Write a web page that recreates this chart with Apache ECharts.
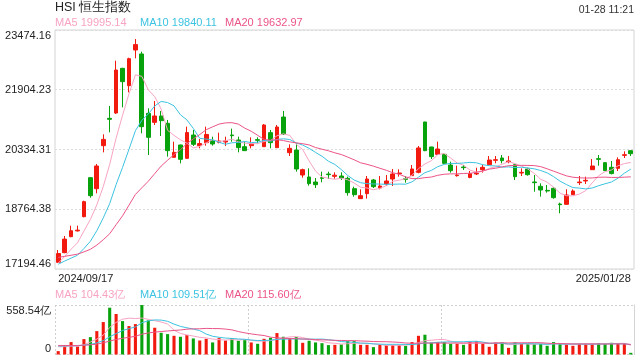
<!DOCTYPE html>
<html>
<head>
<meta charset="utf-8">
<script src="https://cdn.jsdelivr.net/npm/echarts@6/dist/echarts.min.js"></script>
<style>
html,body{margin:0;padding:0;background:#fff;}
#c{width:640px;height:360px;}
</style>
</head>
<body>
<div id="c"></div>
<script>
// ---- data ----
const dates = [
'2024/09/17','2024/09/19','2024/09/20','2024/09/23','2024/09/24','2024/09/25','2024/09/26','2024/09/27','2024/09/30',
'2024/10/02','2024/10/03','2024/10/04','2024/10/07','2024/10/08','2024/10/09','2024/10/10','2024/10/14','2024/10/15','2024/10/16','2024/10/17','2024/10/18','2024/10/21','2024/10/22','2024/10/23','2024/10/24','2024/10/25','2024/10/28','2024/10/29','2024/10/30','2024/10/31',
'2024/11/01','2024/11/04','2024/11/05','2024/11/06','2024/11/07','2024/11/08','2024/11/11','2024/11/12','2024/11/13','2024/11/14','2024/11/15','2024/11/18','2024/11/19','2024/11/20','2024/11/21','2024/11/22','2024/11/25','2024/11/26','2024/11/27','2024/11/28','2024/11/29',
'2024/12/02','2024/12/03','2024/12/04','2024/12/05','2024/12/06','2024/12/09','2024/12/10','2024/12/11','2024/12/12','2024/12/13','2024/12/16','2024/12/17','2024/12/18','2024/12/19','2024/12/20','2024/12/23','2024/12/24','2024/12/27','2024/12/30','2024/12/31',
'2025/01/02','2025/01/03','2025/01/06','2025/01/07','2025/01/08','2025/01/09','2025/01/10','2025/01/13','2025/01/14','2025/01/15','2025/01/16','2025/01/17','2025/01/20','2025/01/21','2025/01/22','2025/01/23','2025/01/24','2025/01/27','2025/01/28'
];
const opens = [
17370,17624,18044,18195,18570,19594,19305,20435,21153,
21293,22467,22011,22949,22844,21285,21048,21215,21022,20129,20453,20102,20715,20435,20514,20566,20523,20531,20715,20584,20409,
20435,20593,20409,20777,20383,21188,20251,20321,19664,19612,19480,19594,19690,19629,19638,19577,19305,19043,19174,19533,19323,
19428,19559,19699,19568,19647,19734,21057,20400,20207,20207,19927,19647,19875,19600,19691,19804,19936,20050,20111,20015,
19936,19717,19822,19480,19367,19261,19314,18902,18894,19148,19463,19507,19804,20093,19988,19866,19839,20180,20304
];
const closes = [
17600,17980,18200,18215,18964,19121,19901,20600,21127,
22423,22117,22721,23090,20934,20654,21215,21092,20304,20260,20076,20780,20470,20490,20730,20479,20558,20560,20698,20383,20304,
20479,20575,20978,20514,20925,20742,20365,19822,19805,19437,19410,19577,19673,19660,19586,19200,19148,19121,19559,19358,19375,
19507,19691,19717,19550,19822,20374,20304,20146,20347,19971,19778,19664,19857,19700,19708,19866,20058,20067,20041,20032,
19620,19734,19673,19463,19270,19244,19069,18885,19139,19244,19480,19524,19901,20076,19779,19701,20066,20198,20225
];
const lows = [
17360,17610,18030,18180,18552,19069,19183,20260,20785,
21267,21442,21836,22730,20759,20190,20978,20689,20146,20120,19970,20085,20426,20365,20435,20435,20496,20426,20540,20260,20295,
20365,20496,20400,20365,20383,20715,20164,19752,19594,19384,19323,19472,19559,19568,19533,19121,19095,19034,19043,19323,19288,
19375,19375,19621,19463,19638,19708,20290,20085,20190,19953,19726,19621,19796,19580,19664,19726,19927,19971,19971,19971,
19533,19638,19647,19226,19095,19200,19042,18657,18890,19140,19402,19428,19796,19910,19770,19682,19769,20111,20163
];
const highs = [
17694,18062,18333,18333,18990,19600,19953,20733,21477,
22668,22480,22747,23238,22905,21416,21609,21346,21110,20540,20460,20934,20847,20610,20934,20671,20777,20671,20882,20671,20540,
20654,20654,21004,20847,20978,21346,20470,20496,19831,19839,19585,19752,19752,19735,19735,19621,19358,19288,19638,19559,19638,
19664,19822,19813,19629,19927,20426,21060,20405,20540,20234,20015,19910,19927,19769,19857,19936,20163,20163,20190,20163,
19940,19839,19857,19664,19445,19402,19340,18937,19288,19288,19638,19620,20085,20190,20006,20032,20128,20286,20304
];
// turnover, unit 亿
const volumes = [
38,106,140,91,174,196,264,366,528,457,377,321,343,558,385,302,245,230,211,200,219,181,158,177,136,185,158,185,155,162,
136,121,177,189,242,200,185,196,132,155,136,128,106,109,113,151,151,109,109,83,109,
106,109,109,98,140,211,223,132,140,140,121,121,109,143,151,121,87,136,136,75,
136,121,121,121,121,98,140,121,113,98,121,121,121,128,120,132,124,127,19
];
// estimated sessions before the first visible day, so the moving averages start at the left edge as in the reference
const priorCloses = [17391,17641,17612,17798,17755,17692,17786,17989,17651,17457,17127,17444,17444,17196,17234,17108,17241,17369,17422];
const priorVolumes = [98,112,105,96,120,101,93,108,115,99,104,110,95,102,118,97,106,100,92];

const priceTicks = ['17194.46','18764.38','20334.31','21904.23','23474.16'];
const volumeTicks = ['0','558.54亿'];
const priceMA = {MA5:'19995.14', MA10:'19840.11', MA20:'19632.97'};
const volMA = {MA5:'104.43亿', MA10:'109.51亿', MA20:'115.60亿'};

// ---- build ----
const priceMin = parseFloat(priceTicks[0]);
const priceMax = parseFloat(priceTicks[priceTicks.length-1]);
const priceStep = (priceMax - priceMin) / (priceTicks.length - 1);
const volMax = parseFloat(volumeTicks[1]);

const UP = '#f2190f', DOWN = '#08a20c';
const C5 = '#f8a3c3', C10 = '#3cc3e1', C20 = '#ec5488';
const FONT = "'Liberation Sans', Arial, sans-serif";

function movingAvg(prior, vals, n) {
  const all = prior.concat(vals);
  const off = prior.length;
  return vals.map((v, i) => {
    const end = off + i;
    if (end - n + 1 < 0) return '-';
    let s = 0;
    for (let k = end - n + 1; k <= end; k++) s += all[k];
    return +(s / n).toFixed(2);
  });
}

const kData = dates.map((d, i) => [opens[i], closes[i], lows[i], highs[i]]);
const volData = volumes.map((v, i) => ({
  value: v,
  itemStyle: {color: closes[i] >= opens[i] ? UP : DOWN}
}));

const chart = echarts.init(document.getElementById('c'), null, {renderer: 'canvas'});

function maLine(name, data, color, xi, yi) {
  return {name, type: 'line', data, xAxisIndex: xi, yAxisIndex: yi, symbol: 'none',
    lineStyle: {width: 1, color}, itemStyle: {color}, silent: true, z: 5};
}
function txt(text, pos, size, color) {
  return Object.assign({text, padding: 0,
    textStyle: {fontSize: size, color, fontWeight: 'normal', fontFamily: FONT}}, pos);
}

chart.setOption({
  animation: false,
  backgroundColor: '#fff',
  textStyle: {fontFamily: FONT},
  title: [
    txt('HSI 恒生指数', {left: 55, top: 1}, 12.5, '#222'),
    txt('01-28 11:21', {right: 6, top: 5}, 10.5, '#333'),
    txt('MA5 ' + priceMA.MA5, {left: 55, top: 17}, 11, C5),
    txt('MA10 ' + priceMA.MA10, {left: 140, top: 17}, 11, C10),
    txt('MA20 ' + priceMA.MA20, {left: 225, top: 17}, 11, C20),
    txt('MA5 ' + volMA.MA5, {left: 55, top: 289}, 11, C5),
    txt('MA10 ' + volMA.MA10, {left: 140, top: 289}, 11, C10),
    txt('MA20 ' + volMA.MA20, {left: 225, top: 289}, 11, C20)
  ],
  grid: [
    {left: 55, right: 6, top: 30, height: 239, show: true, borderColor: '#d4d4d4', borderWidth: 1, backgroundColor: 'transparent'},
    {left: 55, right: 6, top: 305, height: 49.5, show: false}
  ],
  xAxis: [
    {type: 'category', gridIndex: 0, data: dates, boundaryGap: true,
      axisLine: {show: false}, axisTick: {show: false}, splitLine: {show: false},
      axisLabel: {show: true, color: '#222', fontSize: 11, margin: 4, fontFamily: FONT,
        interval: (i) => i === 0 || i === dates.length - 1,
        alignMinLabel: 'left', alignMaxLabel: 'right'}},
    {type: 'category', gridIndex: 1, data: dates, boundaryGap: true,
      axisLine: {show: false}, axisTick: {show: false}, axisLabel: {show: false},
      splitLine: {show: true, interval: (i) => i % 30 === 0, lineStyle: {color: '#cfcfcf', type: [2, 2], width: 1}}}
  ],
  yAxis: [
    {type: 'value', gridIndex: 0, min: priceMin, max: priceMax, interval: priceStep * (1 + 1e-7),
      axisLine: {show: false}, axisTick: {show: false},
      splitLine: {show: true, lineStyle: {color: '#dcdcdc', type: [2, 2], width: 1}},
      axisLabel: {color: '#222', fontSize: 11, margin: 4, fontFamily: FONT,
        verticalAlignMaxLabel: 'top', verticalAlignMinLabel: 'bottom',
        formatter: (v) => priceTicks[Math.round((v - priceMin) / priceStep)] || ''}},
    {type: 'value', gridIndex: 1, min: 0, max: volMax, interval: volMax,
      axisLine: {show: false}, axisTick: {show: false},
      splitLine: {show: true, lineStyle: {color: '#cfcfcf', type: [2, 2], width: 1}},
      axisLabel: {color: '#222', fontSize: 11, margin: 4, fontFamily: FONT,
        verticalAlignMaxLabel: 'top', verticalAlignMinLabel: 'bottom',
        formatter: (v) => v === 0 ? volumeTicks[0] : volumeTicks[1]}},
    {type: 'value', gridIndex: 1, position: 'right', min: 0, max: 1,
      axisLine: {show: true, lineStyle: {color: '#d4d4d4', width: 1}},
      axisTick: {show: false}, axisLabel: {show: false}, splitLine: {show: false}}
  ],
  series: [
    {name: 'HSI', type: 'candlestick', xAxisIndex: 0, yAxisIndex: 0, data: kData, barWidth: '66%',
      itemStyle: {color: UP, color0: DOWN, borderColor: UP, borderColor0: DOWN, borderColorDoji: UP, borderWidth: 1}},
    maLine('MA5', movingAvg(priorCloses, closes, 5), C5, 0, 0),
    maLine('MA10', movingAvg(priorCloses, closes, 10), C10, 0, 0),
    maLine('MA20', movingAvg(priorCloses, closes, 20), C20, 0, 0),
    {name: 'VOL', type: 'bar', xAxisIndex: 1, yAxisIndex: 1, data: volData, barWidth: '48%'},
    maLine('VMA5', movingAvg(priorVolumes, volumes, 5), C5, 1, 1),
    maLine('VMA10', movingAvg(priorVolumes, volumes, 10), C10, 1, 1),
    maLine('VMA20', movingAvg(priorVolumes, volumes, 20), C20, 1, 1)
  ]
});
</script>
</body>
</html>
